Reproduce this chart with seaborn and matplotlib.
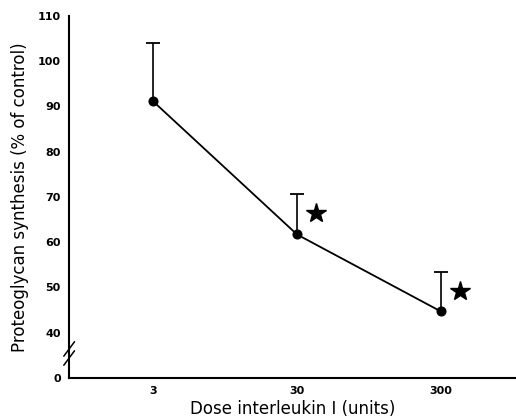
import numpy as np
import pandas as pd
import seaborn as sns
import matplotlib.pyplot as plt
from matplotlib.transforms import offset_copy

sns.set_theme(style="white")
plt.rcParams['font.family'] = ['DejaVu Sans']

# data
dose = [3, 30, 300]
synthesis = [91.1, 61.7, 44.7]
upper_err = [13.0, 9.0, 8.8]
significant = [False, True, True]

# y axis is broken: "0" sits one step below 40
y_ticks = [30, 40, 50, 60, 70, 80, 90, 100, 110]
y_labels = ['0', '40', '50', '60', '70', '80', '90', '100', '110']
x_ticks = [3, 30, 300]
x_labels = ['3', '30', '300']

df = pd.DataFrame({'dose': dose, 'synthesis': synthesis, 'err': upper_err})

fig = plt.figure(figsize=(5.16, 4.19), dpi=100)
ax = fig.add_axes([0.134, 0.098, 0.866, 0.864])

sns.lineplot(ax=ax, data=df, x='dose', y='synthesis', color='black',
             marker='o', markersize=6.5, markeredgecolor='black', linewidth=1.3)
eb = ax.errorbar(df['dose'], df['synthesis'], yerr=[np.zeros(len(df)), df['err']],
                 fmt='none', ecolor='black', elinewidth=1.2, capsize=5, capthick=1.3)
# only the upper cap is shown in the original
eb[1][0].set_visible(False)

# stars next to the significant points
star_tr = offset_copy(ax.transData, fig=fig, x=19, y=-19, units='dots')
for d, m, e, s in zip(dose, synthesis, upper_err, significant):
    if s:
        ax.plot(d, m + e, marker='*', markersize=15, color='black',
                transform=star_tr, clip_on=False)

ax.set_xscale('log')
ax.set_xlim(0.78, 1000)
ax.set_ylim(30, 110)
ax.set_xticks(x_ticks)
ax.set_xticklabels(x_labels)
ax.minorticks_off()
ax.set_yticks(y_ticks)
ax.set_yticklabels(y_labels)
ax.tick_params(axis='y', direction='out', length=4, width=1.2, labelsize=8, pad=2, colors='black')
ax.tick_params(axis='x', direction='in', length=4, width=1.2, labelsize=8, pad=6, colors='black')
for lab in ax.get_xticklabels() + ax.get_yticklabels():
    lab.set_fontweight('bold')

sns.despine(ax=ax)
for sp in ['left', 'bottom']:
    ax.spines[sp].set_color('black')
    ax.spines[sp].set_linewidth(1.5)

# break marks on the y axis
for yb in [0.055, 0.08]:
    ax.plot([-0.012, 0.012], [yb - 0.02, yb + 0.02], transform=ax.transAxes,
            color='black', lw=1.1, clip_on=False)

ax.set_xlabel('Dose interleukin I (units)', fontsize=12, labelpad=3, color='black')
ax.set_ylabel('Proteoglycan synthesis (% of control)', fontsize=12, labelpad=6, color='black')

fig.savefig('out.png', dpi=100)
